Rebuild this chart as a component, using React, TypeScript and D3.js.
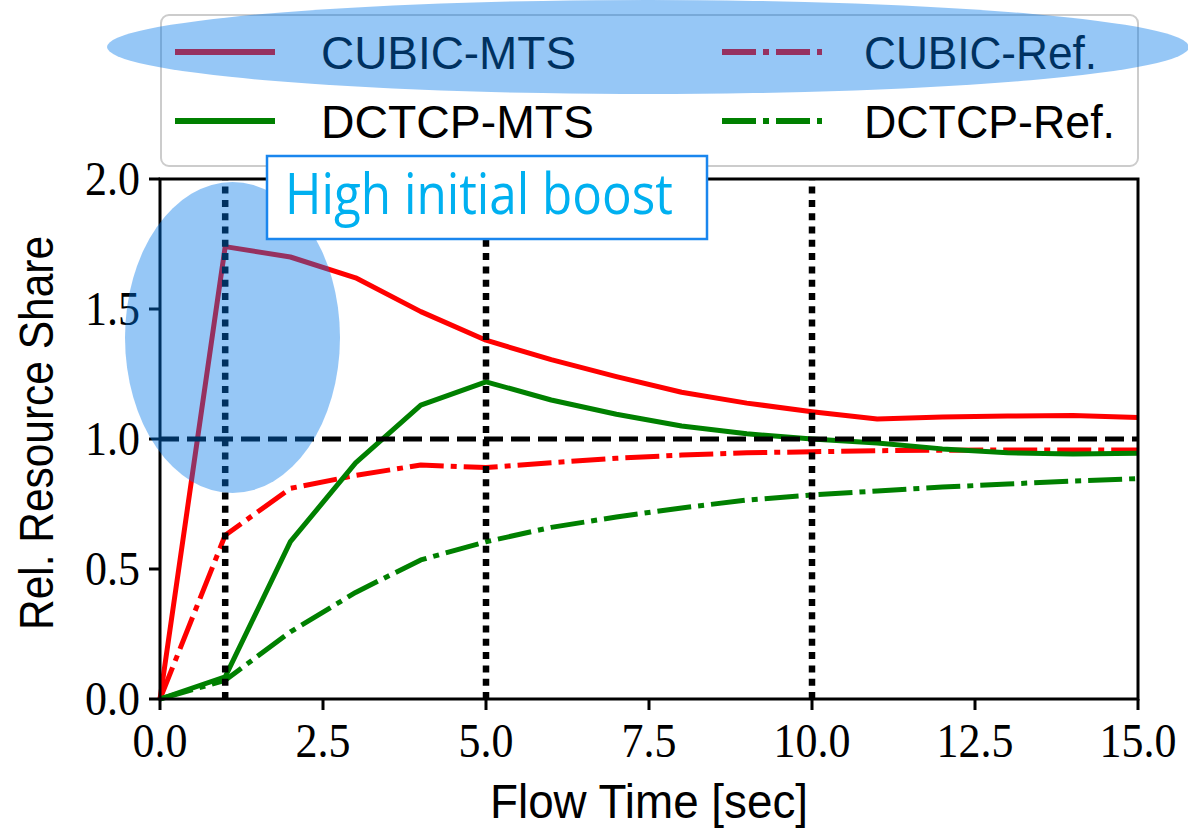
import React from "react";
import * as d3 from "d3";

// Flow time (seconds) and relative resource share of each flow type
const flowTime = [0, 1, 2, 3, 4, 5, 6, 7, 8, 9, 10, 11, 12, 13, 14, 15];
const cubicMts = [0, 1.74, 1.70, 1.62, 1.49, 1.38, 1.305, 1.24, 1.18, 1.138, 1.105, 1.077, 1.085, 1.088, 1.09, 1.083];
const cubicRef = [0, 0.63, 0.81, 0.86, 0.90, 0.89, 0.909, 0.926, 0.938, 0.947, 0.951, 0.955, 0.957, 0.958, 0.958, 0.958];
const dctcpMts = [0, 0.085, 0.605, 0.908, 1.13, 1.22, 1.15, 1.095, 1.05, 1.02, 1.0, 0.985, 0.962, 0.947, 0.942, 0.945];
const dctcpRef = [0, 0.072, 0.258, 0.41, 0.535, 0.605, 0.66, 0.70, 0.735, 0.765, 0.785, 0.80, 0.815, 0.827, 0.838, 0.848];

const xTicks = [0, 2.5, 5, 7.5, 10, 12.5, 15];
const yTicks = [0, 0.5, 1, 1.5, 2];
const markerTimes = [1, 5, 10];
const fairShare = 1.0;

const RED = "#ff0000";
const GREEN = "#008000";
const DASHDOT = "34,7,6,7";

const series = [
  { name: "CUBIC-MTS", values: cubicMts, color: RED, dash: null, col: 0, row: 0, tl: 255 },
  { name: "CUBIC-Ref.", values: cubicRef, color: RED, dash: DASHDOT, col: 1, row: 0, tl: 233 },
  { name: "DCTCP-MTS", values: dctcpMts, color: GREEN, dash: null, col: 0, row: 1, tl: 273 },
  { name: "DCTCP-Ref.", values: dctcpRef, color: GREEN, dash: DASHDOT, col: 1, row: 1, tl: 251 },
];

const W = 1188;
const H = 829;
const plot = { left: 160, right: 1138, top: 179, bottom: 699 };

export default function App() {
  const x = d3.scaleLinear().domain([0, 15]).range([plot.left, plot.right]);
  const y = d3.scaleLinear().domain([0, 2]).range([plot.bottom, plot.top]);
  const line = d3
    .line<number>()
    .x((_, i) => x(flowTime[i]))
    .y((v) => y(v));

  const tickFont = "'Liberation Serif', 'DejaVu Serif', serif";
  const sansFont = "'Liberation Sans', 'DejaVu Sans', sans-serif";

  const legendCols = [
    { lineX: 175, textX: 321 },
    { lineX: 722, textX: 864 },
  ];
  const legendRows = [52, 121];

  return (
    <svg
      width={W}
      height={H}
      viewBox={`0 0 ${W} ${H}`}
      style={{ position: "absolute", left: 0, top: 0, background: "#fff" }}
    >
      <rect x={0} y={0} width={W} height={H} fill="#fff" />

      {/* data lines */}
      <g fill="none">
        {series.map((s) => (
          <path
            key={s.name}
            d={line(s.values) || ""}
            stroke={s.color}
            strokeWidth={5}
            strokeDasharray={s.dash || undefined}
            strokeLinejoin="round"
          />
        ))}
      </g>

      {/* fair share reference and phase markers */}
      <line
        x1={plot.left}
        x2={plot.right}
        y1={y(fairShare)}
        y2={y(fairShare)}
        stroke="#000"
        strokeWidth={5}
        strokeDasharray="19,8"
      />
      {markerTimes.map((t) => (
        <line
          key={t}
          x1={x(t)}
          x2={x(t)}
          y1={plot.bottom}
          y2={plot.top}
          stroke="#000"
          strokeWidth={6.5}
          strokeDasharray="7,6.3"
        />
      ))}

      {/* axes frame */}
      <rect
        x={plot.left}
        y={plot.top}
        width={plot.right - plot.left}
        height={plot.bottom - plot.top}
        fill="none"
        stroke="#000"
        strokeWidth={3}
      />
      {xTicks.map((t) => (
        <g key={"x" + t}>
          <line x1={x(t)} x2={x(t)} y1={plot.bottom} y2={plot.bottom + 11} stroke="#000" strokeWidth={3} />
          <text
            transform={`translate(${x(t)}, 757) scale(1, 1.12)`}
            textAnchor="middle"
            fontFamily={tickFont}
            fontSize={44}
            fill="#000"
          >
            {t.toFixed(1)}
          </text>
        </g>
      ))}
      {yTicks.map((t) => (
        <g key={"y" + t}>
          <line x1={plot.left - 11} x2={plot.left} y1={y(t)} y2={y(t)} stroke="#000" strokeWidth={3} />
          <text
            transform={`translate(140, ${y(t) + 16}) scale(1, 1.12)`}
            textAnchor="end"
            fontFamily={tickFont}
            fontSize={44}
            fill="#000"
          >
            {t.toFixed(1)}
          </text>
        </g>
      ))}

      <text
        x={649}
        y={818}
        textAnchor="middle"
        fontFamily={sansFont}
        fontSize={48}
        textLength={318}
        lengthAdjust="spacingAndGlyphs"
        fill="#000"
      >
        Flow Time [sec]
      </text>
      <text
        transform={`translate(53, 433) rotate(-90)`}
        textAnchor="middle"
        fontFamily={sansFont}
        fontSize={48}
        textLength={394}
        lengthAdjust="spacingAndGlyphs"
        fill="#000"
      >
        Rel. Resource Share
      </text>

      {/* highlight over the initial boost */}
      <ellipse cx={232.5} cy={337.5} rx={107.5} ry={155.5} fill="rgb(0,120,232)" fillOpacity={0.41} />

      {/* legend */}
      <rect x={161} y={15} width={977} height={151} rx={8} fill="#fff" stroke="#cccccc" strokeWidth={2} />
      {series.map((s) => {
        const c = legendCols[s.col];
        const ry = legendRows[s.row];
        return (
          <g key={"lg" + s.name}>
            <line
              x1={c.lineX}
              x2={c.lineX + 100}
              y1={ry}
              y2={ry}
              stroke={s.color}
              strokeWidth={6}
              strokeDasharray={s.dash || undefined}
            />
            <text
              x={c.textX}
              y={ry + 17}
              fontFamily={sansFont}
              fontSize={46}
              textLength={s.tl}
              lengthAdjust="spacingAndGlyphs"
              fill="#000"
            >
              {s.name}
            </text>
          </g>
        );
      })}

      {/* highlight over the legend's CUBIC row */}
      <ellipse cx={648} cy={47} rx={541} ry={47} fill="rgb(0,120,232)" fillOpacity={0.41} />

      {/* annotation */}
      <rect x={267} y={156} width={440} height={83} fill="#fff" stroke="#1a86ee" strokeWidth={2.5} />
      <text
        x={285}
        y={214}
        fontFamily="'Open Sans', 'Noto Sans', sans-serif"
        fontSize={56}
        textLength={388}
        lengthAdjust="spacingAndGlyphs"
        fill="#00b0f0"
      >
        High initial boost
      </text>
    </svg>
  );
}
